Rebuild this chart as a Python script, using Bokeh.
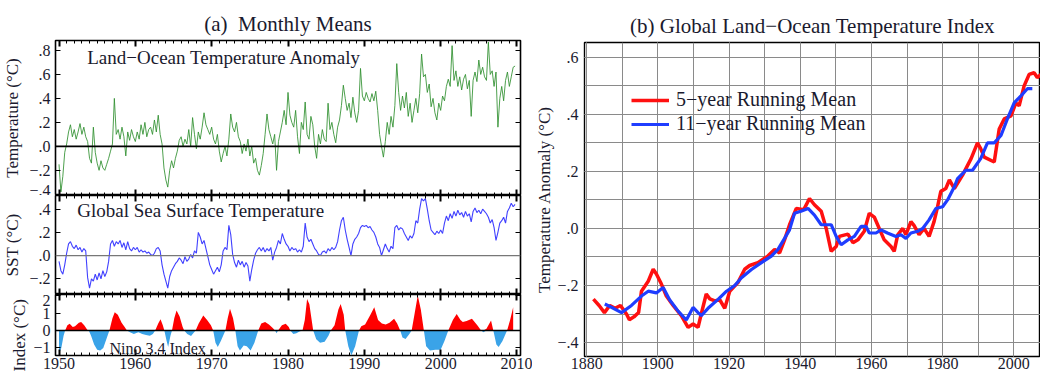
import numpy as np
from bokeh.plotting import figure
from bokeh.models import Range1d, LinearAxis, FixedTicker, Span, Label, Legend, LegendItem, Grid, Title
from bokeh.layouts import row, column
from bokeh.embed import file_html
from bokeh.resources import INLINE

FONT = "Liberation Serif"
INK = "#1a1a2e"

# ---------------- data ----------------
# quarterly time axis 1950.00 .. 2009.75
q_years = np.arange(1950, 2010, 0.25)

land_ocean = [
    -0.15, -0.38, -0.25, -0.05,  0.02, 0.12, 0.18, 0.08,  0.14, 0.06, 0.12, 0.19,  0.10, 0.16, 0.08, 0.04,
    -0.10, -0.14, 0.16, -0.05,  -0.14, -0.20, -0.12, -0.18,  -0.20, -0.15, -0.10, -0.04,  0.02, 0.40, 0.10, 0.14,
    0.06, 0.16, 0.08, -0.08,  0.12, 0.05, 0.14, 0.08,
    0.04, 0.12, 0.06, 0.18,  0.10, 0.20, 0.08, 0.14,  0.16, 0.10, 0.22, 0.12,  0.26, 0.10, 0.02, -0.18,
    -0.28, -0.34, -0.20, -0.12,  -0.18, -0.10, -0.04, 0.05,  0.08, 0.00, 0.06, 0.02,  0.14, 0.00, 0.24, 0.10,
    -0.02, 0.12, 0.06, 0.16,  0.28, 0.18, 0.14, 0.10,
    0.16, 0.06, 0.02, 0.10,  -0.04, -0.13, -0.06, 0.00,  -0.08, 0.06, 0.27, 0.16,  0.12, 0.20, 0.08, 0.04,
    -0.06, 0.02, -0.04, 0.06,  -0.08, 0.00, -0.14, -0.10,  -0.20, -0.24, -0.16, -0.06,  0.10, 0.27, 0.14, 0.08,
    0.02, 0.10, -0.20, 0.04,  0.12, 0.20, 0.30, 0.18,
    0.45, 0.26, 0.20, 0.16,  0.30, 0.08, -0.06, 0.20,  0.14, 0.37, 0.10, 0.06,  0.25, 0.18, 0.00, -0.10,
    0.10, 0.02, 0.14, 0.06,  0.04, 0.36, 0.14, 0.20,  0.10, 0.03, 0.16, 0.22,  0.34, 0.51, 0.40, 0.30,
    0.36, 0.24, 0.41, 0.28,  0.20, 0.30, 0.65, 0.42,
    0.38, 0.45, 0.40, 0.37,  0.44, 0.38, 0.46, 0.30,  0.10, 0.00, -0.09, 0.04,  0.20, 0.10, 0.25, 0.16,
    0.34, 0.69, 0.45, 0.30,  0.42, 0.32, 0.45, 0.25,  0.36, 0.20, 0.30, 0.40,  0.28, 0.44, 0.77, 0.58,
    0.60, 0.45, 0.52, 0.33,  0.40, 0.28, 0.22, 0.36,
    0.30, 0.42, 0.38, 0.50,  0.56, 0.50, 0.84, 0.55,  0.63, 0.50, 0.58, 0.47,  0.56, 0.60, 0.48, 0.55,
    0.25, 0.55, 0.62, 0.54,  0.72, 0.60, 0.66, 0.58,  0.55, 0.87, 0.60, 0.63,  0.50, 0.62, 0.16, 0.40,
    0.50, 0.38, 0.55, 0.62,  0.50, 0.58, 0.66, 0.67,
]

sst = [
    -0.05, -0.13, -0.16, -0.08,  0.02, 0.10, 0.12, 0.08,  0.06, 0.09, 0.05, 0.07,  0.03, 0.06, 0.04, -0.19,
    -0.28, -0.20, -0.22, -0.16,  -0.21, -0.15, -0.20, -0.13,  -0.18, -0.14, -0.05, 0.10,  0.13, 0.08, 0.12, 0.10,
    0.13, 0.07, 0.11, 0.05,  0.12, 0.06, 0.04, 0.07,
    0.05, 0.07, 0.03, 0.05,  0.03, 0.04, 0.02, 0.03,  0.01, 0.00, 0.02, 0.06,  0.07, 0.04, -0.08, -0.16,
    -0.22, -0.28, -0.18, -0.13,  -0.10, -0.07, -0.05, -0.02,  -0.04, -0.07, -0.01, -0.05,  -0.03, 0.01, -0.02, 0.04,
    0.02, 0.20, 0.16, 0.10,  0.13, 0.06, -0.01, -0.08,
    -0.12, -0.16, -0.13, -0.10,  -0.14, -0.08, 0.04, 0.07,  0.05, 0.26, 0.18, 0.01,  -0.06, -0.10, -0.04, -0.08,
    -0.05, -0.10, -0.06, -0.09,  -0.22, -0.12, -0.04, 0.02,  0.05, 0.07, 0.04, 0.07,  0.03, 0.06, 0.04, 0.07,
    -0.04, 0.03, 0.07, 0.13,  0.10, 0.19, 0.14, 0.10,
    0.08, 0.04, 0.07, 0.05,  0.06, 0.03, 0.05, 0.03,  0.08, 0.28, 0.16, 0.12,  0.14, 0.10, 0.06, 0.04,
    0.01, 0.00, 0.03, 0.04,  0.02, 0.06, 0.04, 0.07,  0.05, 0.07, 0.12, 0.22,  0.30, 0.33, 0.22, 0.14,
    0.07, 0.00, 0.10, 0.14,  0.16, 0.19, 0.24, 0.26,
    0.25, 0.26, 0.24, 0.25,  0.22, 0.20, 0.16, 0.10,  0.07, 0.00, 0.05, 0.10,  0.06, 0.03, 0.08, 0.06,
    0.24, 0.26, 0.22, 0.24,  0.23, 0.19, 0.16, 0.13,  0.17, 0.15, 0.19, 0.30,  0.28, 0.40, 0.49, 0.47,
    0.49, 0.40, 0.30, 0.22,  0.20, 0.18, 0.21, 0.19,
    0.22, 0.19, 0.28, 0.34,  0.30, 0.36, 0.32, 0.38,  0.34, 0.39, 0.35, 0.37,  0.33, 0.38, 0.34, 0.36,
    0.29, 0.38, 0.41, 0.37,  0.39, 0.36, 0.40, 0.38,  0.36, 0.33, 0.28, 0.31,  0.24, 0.13, 0.20, 0.28,
    0.30, 0.33, 0.28, 0.38,  0.41, 0.45, 0.42, 0.44,
]

nino_years = [
    1950.0, 1950.3, 1950.6, 1950.8, 1951.1, 1951.4, 1951.8, 1952.1, 1952.6, 1952.9, 1953.3, 1953.7, 1953.9,
    1954.2, 1954.6, 1955.0, 1955.4, 1955.8, 1956.2, 1956.6, 1957.0, 1957.3, 1957.7, 1958.2, 1958.6, 1958.9,
    1959.3, 1959.8, 1960.4, 1960.9, 1961.4, 1961.9, 1962.3, 1962.6, 1963.0, 1963.3, 1963.6, 1963.8, 1964.1,
    1964.3, 1964.6, 1964.8, 1965.1, 1965.4, 1965.8, 1966.2, 1966.4, 1966.8, 1967.3, 1967.7, 1967.9, 1968.3,
    1968.9, 1969.4, 1969.9, 1970.2, 1970.5, 1970.8, 1971.2, 1971.5, 1971.8, 1972.1, 1972.4, 1972.8, 1973.1,
    1973.4, 1973.7, 1974.2, 1974.6, 1975.1, 1975.6, 1976.1, 1976.5, 1977.0, 1977.5, 1978.0, 1978.3, 1978.5,
    1978.7, 1979.2, 1979.7, 1980.1, 1980.3, 1980.7, 1981.1, 1981.5, 1981.9, 1982.2, 1982.5, 1982.8, 1983.1,
    1983.3, 1983.7, 1984.2, 1984.8, 1985.3, 1985.6, 1986.1, 1986.6, 1986.9, 1987.3, 1987.5, 1987.9, 1988.3,
    1988.8, 1989.3, 1989.6, 1990.1, 1990.8, 1991.3, 1991.8, 1992.3, 1992.8, 1993.3, 1993.9, 1994.3, 1994.7,
    1995.0, 1995.4, 1995.9, 1996.2, 1996.6, 1997.0, 1997.4, 1997.8, 1998.1, 1998.6, 1999.3, 2000.0, 2000.5,
    2001.0, 2001.6, 2002.1, 2002.6, 2002.9, 2003.4, 2004.1, 2004.8, 2005.3, 2005.6, 2006.0, 2006.6, 2006.9,
    2007.3, 2007.6, 2008.1, 2008.7, 2009.1, 2009.5,
]
nino_vals = [
    -1.35, -1.0, -0.3, 0.0, 0.3, 0.38, 0.2, 0.25, 0.45, 0.48, 0.3, 0.05, 0.0,
    -0.3, -0.8, -1.1, -1.14, -1.0, -0.5, 0.0, 0.7, 1.05, 0.9, 0.45, 0.2, 0.0,
    -0.1, -0.2, -0.1, -0.2, -0.25, -0.3, -0.2, 0.0, 0.4, 0.65, 0.3, 0.0, -0.6,
    -0.95, -0.3, 0.0, 0.7, 1.14, 0.8, 0.2, 0.0, -0.2, -0.32, -0.1, 0.0, 0.4,
    0.86, 0.6, 0.3, 0.0, -0.7, -0.95, -0.6, -0.3, 0.0, 0.7, 1.24, 0.7, 0.0,
    -0.9, -1.14, -0.86, -0.9, -1.14, -0.7, 0.0, 0.4, 0.48, 0.35, 0.15, 0.0, -0.15,
    0.0, 0.3, 0.38, 0.2, 0.0, -0.2, -0.15, -0.05, 0.0, 0.6, 1.8, 1.5, 0.6,
    0.0, -0.5, -0.7, -0.65, -0.3, 0.0, 0.3, 1.2, 1.52, 0.9, 0.0, -0.9, -1.43,
    -0.9, 0.0, 0.25, 0.35, 0.9, 1.33, 0.6, 0.4, 0.35, 0.45, 0.67, 0.4, 0.0,
    -0.4, -0.48, -0.2, 0.0, 1.0, 2.0, 1.2, 0.0, -0.9, -1.14, -1.1, -1.1, -0.6,
    0.0, 0.6, 0.95, 0.6, 0.48, 0.55, 0.67, 0.3, 0.0, -0.1, 0.1, 0.57, 0.0,
    -0.8, -0.95, -0.6, 0.0, 0.6, 1.33,
]

run5_years = [
    1881.9, 1883.5, 1885.0, 1886.5, 1888.0, 1889.5, 1891.2, 1892.0, 1893.3, 1894.6, 1895.4, 1897.3, 1898.7,
    1899.6, 1901.0, 1902.4, 1904.3, 1906.6, 1908.5, 1909.9, 1911.3, 1912.2, 1913.6, 1914.6, 1916.0, 1917.4,
    1918.8, 1920.2, 1922.5, 1924.4, 1925.8, 1928.1, 1930.9, 1932.8, 1934.2, 1935.6, 1937.0, 1938.9, 1941.0,
    1942.6, 1944.0, 1945.9, 1947.3, 1948.7, 1950.1, 1951.0, 1953.4, 1954.8, 1956.2, 1958.0, 1959.4, 1960.8,
    1962.2, 1963.6, 1965.5, 1966.4, 1967.4, 1968.8, 1969.7, 1971.1, 1972.0, 1973.4, 1974.8, 1976.2, 1977.6,
    1978.6, 1979.5, 1980.9, 1981.9, 1983.3, 1985.6, 1988.0, 1989.8, 1990.7, 1991.7, 1994.5, 1995.9, 1997.3,
    1999.2, 2000.6, 2001.5, 2002.9, 2004.3, 2005.7, 2006.6, 2007.6,
]
run5_vals = [
    -0.248, -0.27, -0.295, -0.27, -0.28, -0.27, -0.30, -0.32, -0.31, -0.295, -0.22, -0.185, -0.143,
    -0.16, -0.195, -0.237, -0.27, -0.306, -0.347, -0.335, -0.347, -0.30, -0.23, -0.247, -0.254, -0.25,
    -0.28, -0.22, -0.19, -0.143, -0.13, -0.12, -0.097, -0.074, -0.086, -0.04, 0.013, 0.07, 0.066,
    0.105, 0.083, 0.06, 0.0, -0.08, -0.063, -0.028, -0.02, -0.05, -0.04, -0.01, 0.053, 0.04,
    0.0, -0.04, -0.063, -0.08, -0.022, 0.0, -0.022, 0.024, 0.01, -0.022, 0.0, -0.028, 0.024,
    0.077, 0.13, 0.14, 0.17, 0.14, 0.187, 0.245, 0.30, 0.28, 0.25, 0.233, 0.349, 0.384,
    0.395, 0.44, 0.43, 0.50, 0.54, 0.546, 0.529, 0.54,
]

run11_years = [
    1885.1, 1887.5, 1889.8, 1892.6, 1895.4, 1897.3, 1899.6, 1901.5, 1903.3, 1905.7, 1908.0, 1909.9, 1911.3,
    1912.2, 1914.1, 1917.0, 1919.3, 1921.6, 1923.5, 1926.3, 1929.1, 1931.9, 1933.7, 1935.6, 1937.0, 1938.4,
    1940.2, 1942.2, 1944.0, 1945.9, 1948.7, 1950.1, 1951.5, 1953.4, 1955.2, 1957.1, 1958.5, 1959.4, 1961.3,
    1962.7, 1964.5, 1966.9, 1968.3, 1969.7, 1971.1, 1973.0, 1974.4, 1976.2, 1978.1, 1980.0, 1981.4, 1983.3,
    1984.2, 1986.5, 1988.4, 1990.7, 1992.6, 1994.5, 1996.4, 1998.2, 2000.1, 2002.0, 2003.8, 2005.2,
]
run11_vals = [
    -0.265, -0.28, -0.295, -0.27, -0.237, -0.22, -0.226, -0.207, -0.25, -0.29, -0.321, -0.277, -0.295,
    -0.306, -0.28, -0.248, -0.22, -0.2, -0.173, -0.144, -0.12, -0.097, -0.074, -0.035, -0.005, 0.053,
    0.06, 0.07, 0.047, 0.013, 0.013, -0.028, -0.057, -0.04, -0.028, 0.007, 0.007, -0.016, -0.016,
    -0.005, -0.016, -0.028, -0.022, -0.035, -0.016, -0.01, 0.0, 0.03, 0.07, 0.076, 0.1, 0.146,
    0.175, 0.204, 0.204, 0.245, 0.30, 0.30, 0.326, 0.384, 0.44, 0.465, 0.49, 0.49,
]

left_x_ticks = [1950, 1960, 1970, 1980, 1990, 2000, 2010]
t1_ticks = [-0.4, -0.2, 0.0, 0.2, 0.4, 0.6, 0.8]
t1_labels = ["\u2212.4", "\u2212.2", ".0", ".2", ".4", ".6", ".8"]
t2_ticks = [-0.2, 0.0, 0.2, 0.4]
t2_labels = ["\u2212.2", ".0", ".2", ".4"]
t3_ticks = [-1, 0, 1, 2]
t3_labels = ["\u22121", "0", "1", "2"]
r_x_ticks = [1880, 1900, 1920, 1940, 1960, 1980, 2000]
r_y_ticks = [-0.4, -0.2, 0.0, 0.2, 0.4, 0.6]
r_y_labels = ["\u2212.4", "\u2212.2", ".0", ".2", ".4", ".6"]

# ---------------- left column ----------------
LEFT_X = (1949.54, 2010.46)
LEFT_W = 532


def style_axis(ax, labels_on, size="16px"):
    ax.axis_line_color = None
    ax.major_tick_line_color = "black"
    ax.minor_tick_line_color = "black"
    ax.major_tick_out = 0
    ax.minor_tick_out = 0
    ax.major_label_text_font = FONT
    if labels_on:
        ax.major_label_text_color = INK
        ax.major_label_text_font_size = size
        ax.major_label_standoff = 3
    else:
        ax.major_label_text_color = None
        ax.major_label_text_font_size = "0px"
        ax.major_label_standoff = 0


def make_left(height, yr, top, bottom, yticks, ylabels, ylabel, show_x):
    p = figure(width=LEFT_W, height=height, x_range=Range1d(*LEFT_X), y_range=Range1d(*yr),
               output_backend="svg", toolbar_location=None,
               x_axis_location=None, y_axis_location=None,
               min_border_left=54, min_border_right=LEFT_W - 520, min_border_top=top, min_border_bottom=bottom)
    p.grid.visible = False
    p.outline_line_color = "black"
    p.outline_line_width = 1.6
    ya = LinearAxis(ticker=FixedTicker(ticks=yticks), major_label_overrides=dict(zip(yticks, ylabels)))
    if ylabel:
        ya.axis_label = ylabel
    style_axis(ya, True)
    ya.major_tick_in = 5
    ya.major_label_standoff = 5
    ya.axis_label_text_font = FONT
    ya.axis_label_text_font_style = "normal"
    ya.axis_label_text_font_size = "17px"
    ya.axis_label_text_color = INK
    ya.axis_label_standoff = 4
    p.add_layout(ya, "left")
    yb = LinearAxis(ticker=FixedTicker(ticks=yticks))
    style_axis(yb, False)
    yb.major_tick_in = 5
    p.add_layout(yb, "right")
    for loc in ("below", "above"):
        lab = show_x and loc == "below"
        xa = LinearAxis(ticker=FixedTicker(ticks=left_x_ticks, minor_ticks=list(range(1950, 2011))))
        style_axis(xa, lab)
        xa.major_tick_in = 6
        xa.minor_tick_in = 3
        xa.major_tick_line_width = 2
        if lab:
            xa.major_label_standoff = 2
        p.add_layout(xa, loc)
    return p


f1 = make_left(195, (-0.41, 0.883), 40, 0, t1_ticks, t1_labels, "Temperature (\u00b0C)", False)
f1.title.text = "(a)\u00a0 Monthly Means"
f1.title.align = "center"
f1.title.text_font = FONT
f1.title.text_font_style = "normal"
f1.title.text_font_size = "21px"
f1.title.text_color = INK
f1.title.standoff = 9
f1.add_layout(Span(location=0, dimension="width", line_color="black", line_width=1.6))
f1.line(q_years, land_ocean, line_color="#2f8f2f", line_width=1, line_alpha=0.85)
f1.add_layout(Label(x=1953.7, y=0.74, text="Land\u2212Ocean Temperature Anomaly", text_font=FONT,
                    text_font_size="19px", text_color=INK, text_baseline="middle"))

f2 = make_left(99, (-0.335, 0.517), 0, 0, t2_ticks, t2_labels, "SST (\u00b0C)", False)
f2.add_layout(Span(location=0, dimension="width", line_color="#777777", line_width=1.2))
f2.line(q_years, sst, line_color="#2b2bff", line_width=1.1, line_alpha=0.9)
f2.add_layout(Label(x=1952.4, y=0.39, text="Global Sea Surface Temperature", text_font=FONT,
                    text_font_size="19px", text_color=INK, text_baseline="middle"))

f3 = make_left(82, (-1.43, 2.06), 0, 21, t3_ticks, t3_labels, None, True)
nv = np.array(nino_vals)
f3.varea(x=nino_years, y1=0, y2=np.maximum(nv, 0), fill_color="#ff0000")
f3.varea(x=nino_years, y1=0, y2=np.minimum(nv, 0), fill_color="#3aa3e8")
f3.add_layout(Span(location=0, dimension="width", line_color="black", line_width=1.6))
f3.add_layout(Label(x=1956.6, y=-1.03, text="Nino 3.4 Index", text_font=FONT,
                    text_font_size="16px", text_color=INK, text_baseline="middle"))
f3.add_layout(Title(text="Index (\u00b0C)", align="left", offset=-16, standoff=4, text_font=FONT,
                    text_font_style="normal", text_font_size="17px", text_color=INK), "left")

left = column(f1, f2, f3, spacing=0)

# ---------------- right panel ----------------
RIGHT_W = 1040 - LEFT_W
p = figure(width=RIGHT_W, height=376, x_range=Range1d(1879.4, 2007.5), y_range=Range1d(-0.449, 0.652),
           output_backend="svg", toolbar_location=None,
           x_axis_location=None, y_axis_location=None,
           min_border_left=583 - LEFT_W, min_border_right=0, min_border_top=42, min_border_bottom=20)
p.title.text = "(b) Global Land\u2212Ocean Temperature Index"
p.title.align = "center"
p.title.text_font = FONT
p.title.text_font_style = "normal"
p.title.text_font_size = "21px"
p.title.text_color = INK
p.title.standoff = 10
p.outline_line_color = "black"
p.outline_line_width = 1.4

xax = LinearAxis(ticker=FixedTicker(ticks=r_x_ticks, minor_ticks=list(range(1880, 2010, 10))))
style_axis(xax, True)
xax.major_tick_in = 0
xax.minor_tick_in = 0
xax.major_label_standoff = 1
p.add_layout(xax, "below")
yax = LinearAxis(ticker=FixedTicker(ticks=r_y_ticks, minor_ticks=[-0.4, -0.3, -0.2, -0.1, 0.0, 0.1, 0.2, 0.3, 0.4, 0.5, 0.6]),
                 major_label_overrides=dict(zip(r_y_ticks, r_y_labels)),
                 axis_label="Temperature Anomaly (\u00b0C)")
style_axis(yax, True)
yax.major_tick_in = 0
yax.minor_tick_in = 0
yax.major_label_standoff = 6
yax.axis_label_text_font = FONT
yax.axis_label_text_font_style = "normal"
yax.axis_label_text_font_size = "17px"
yax.axis_label_text_color = INK
yax.axis_label_standoff = 0
p.add_layout(yax, "left")

gx = Grid(dimension=0, ticker=xax.ticker, grid_line_color="#8a8a8a", grid_line_width=1,
          minor_grid_line_color="#8a8a8a", minor_grid_line_width=1)
gy = Grid(dimension=1, ticker=yax.ticker, grid_line_color="#8a8a8a", grid_line_width=1,
          minor_grid_line_color="#8a8a8a", minor_grid_line_width=1)
p.add_layout(gx)
p.add_layout(gy)

r5 = p.line(run5_years, run5_vals, line_color="#ff1010", line_width=3.5)
r11 = p.line(run11_years, run11_vals, line_color="#1f3dff", line_width=3.2)

legend = Legend(items=[LegendItem(label="5\u2212year Running Mean", renderers=[r5]),
                       LegendItem(label="11\u2212year Running Mean", renderers=[r11])],
                location=(47, 221), border_line_color=None, background_fill_alpha=0,
                label_text_font=FONT, label_text_font_size="20px", label_text_color=INK,
                glyph_width=38, glyph_height=20, label_height=20, spacing=1, padding=0, margin=0,
                label_standoff=7)
p.add_layout(legend)

layout = row(left, p, spacing=0)

open("out.html", "w").write(file_html(layout, INLINE))
